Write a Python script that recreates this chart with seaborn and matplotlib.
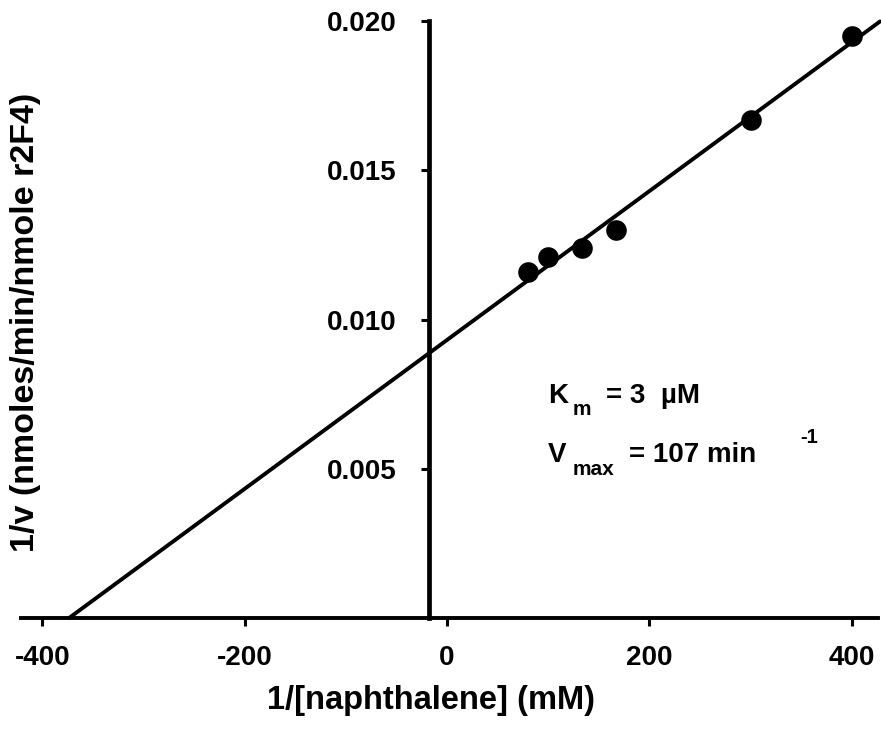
import numpy as np
import pandas as pd
import seaborn as sns
import matplotlib
matplotlib.use("Agg")
import matplotlib.pyplot as plt
import matplotlib.ticker as mtick

# Lineweaver-Burk data
inv_naph = [80, 100, 133, 167, 300, 400]            # 1/[naphthalene] (mM)
inv_v = [0.0116, 0.0121, 0.0124, 0.0130, 0.0167, 0.0195]  # 1/v
x_ticks = [-400, -200, 0, 200, 400]
y_ticks = [0.005, 0.010, 0.015, 0.020]
km_text = "3  µM"
vmax_text = "107 min"

df = pd.DataFrame({"x": inv_naph, "y": inv_v})

sns.set_theme(style="ticks")
plt.rcParams["font.family"] = ["Liberation Sans", "DejaVu Sans"]
plt.rcParams["font.weight"] = "bold"
plt.rcParams["axes.unicode_minus"] = False
plt.rcParams["text.color"] = "black"

fig = plt.figure(figsize=(8.81, 7.32), dpi=100)
ax = fig.add_axes([21 / 881, 114 / 732, 857 / 881, 597 / 732])

# linear fit through the points, drawn from the x-intercept up to the right edge
slope, icpt = np.polyfit(df["x"], df["y"], 1)
x_line = np.array([-icpt / slope, 428])
line_df = pd.DataFrame({"x": x_line, "y": slope * x_line + icpt})
sns.lineplot(data=line_df, x="x", y="y", ax=ax, color="black", linewidth=2.8,
             clip_on=False, zorder=2)

sns.scatterplot(data=df, x="x", y="y", ax=ax, color="black", s=220,
                edgecolor="black", linewidth=0, zorder=3, clip_on=False)

ax.set_xlim(-421, 426)
ax.set_ylim(0, 0.020)
ax.set_xticks(x_ticks)
ax.set_yticks(y_ticks)
ax.yaxis.set_major_formatter(mtick.FormatStrFormatter("%.3f"))

for s in ["top", "right"]:
    ax.spines[s].set_visible(False)
ax.spines["left"].set_position(("data", -18))
ax.spines["left"].set_linewidth(3.4)
ax.spines["bottom"].set_linewidth(2.8)
ax.spines["left"].set_color("black")
ax.spines["bottom"].set_color("black")

ax.tick_params(axis="x", direction="out", length=6, width=2.2, pad=13.5,
               labelsize=20, colors="black")
ax.tick_params(axis="y", direction="out", length=6, width=2.2, pad=17,
               labelsize=20, colors="black")
for lab in ax.get_xticklabels() + ax.get_yticklabels():
    lab.set_fontweight("bold")

ax.set_xlabel("")
ax.set_ylabel("")
fig.text(431 / 881, 23 / 732, "1/[naphthalene] (mM)", ha="center",
         va="baseline", fontsize=23.5, fontweight="bold", color="black")
fig.text(26 / 881, 410 / 732, "1/v (nmoles/min/nmole r2F4)", ha="center",
         va="center", rotation=90, fontsize=24.5, fontweight="bold", color="black")

# kinetic constants
ax.text(100, 0.0072, "K", fontsize=20, fontweight="bold", va="baseline")
ax.text(124, 0.0068, "m", fontsize=15, fontweight="bold", va="baseline")
ax.text(157.5, 0.0072, "= " + km_text, fontsize=20, fontweight="bold", va="baseline")
ax.text(100, 0.00522, "V", fontsize=20, fontweight="bold", va="baseline")
ax.text(124, 0.00479, "max", fontsize=15, fontweight="bold", va="baseline")
ax.text(179.5, 0.00522, "= " + vmax_text, fontsize=20, fontweight="bold", va="baseline")
ax.text(349.6, 0.00586, "-1", fontsize=14.5, fontweight="bold", va="baseline")

fig.savefig("out.png", dpi=100)
